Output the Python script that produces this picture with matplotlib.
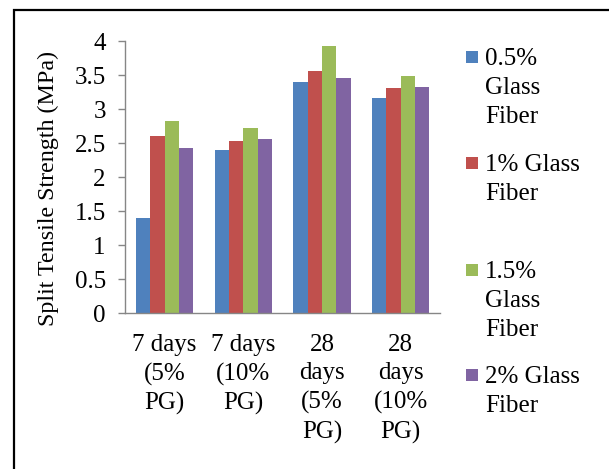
import matplotlib
matplotlib.use("Agg")
import matplotlib.pyplot as plt
import numpy as np
from matplotlib.patches import Rectangle

# data
categories = ["7 days\n(5%\nPG)", "7 days\n(10%\nPG)", "28\ndays\n(5%\nPG)", "28\ndays\n(10%\nPG)"]
series_names = ["0.5%\nGlass\nFiber", "1% Glass\nFiber", "1.5%\nGlass\nFiber", "2% Glass\nFiber"]
gf_05 = [1.40, 2.39, 3.39, 3.16]
gf_10 = [2.61, 2.53, 3.56, 3.31]
gf_15 = [2.83, 2.72, 3.92, 3.48]
gf_20 = [2.42, 2.56, 3.45, 3.32]
yticks = [0, 0.5, 1, 1.5, 2, 2.5, 3, 3.5, 4]
ytick_labels = ["0", "0.5", "1", "1.5", "2", "2.5", "3", "3.5", "4"]

colors = ["#4F81BD", "#C0504D", "#9BBB59", "#8064A2"]
axis_gray = "#868686"

plt.rcParams['font.family'] = ['Liberation Serif', 'DejaVu Serif']
fs = 18

W, H = 609, 469
fig = plt.figure(figsize=(W / 100, H / 100), dpi=100)
ax = fig.add_axes([125.3 / W, 1 - 313 / H, (440 - 125.3) / W, (313 - 41) / H])

x = np.arange(len(categories))
width = 0.182
values = [gf_05, gf_10, gf_15, gf_20]
bars = []
for i, vals in enumerate(values):
    b = ax.bar(x + (i - 1.5) * width, vals, width, color=colors[i], linewidth=0)
    bars.append(b)

ax.set_xlim(-0.5, len(categories) - 0.5)
ax.set_ylim(0, 4)
ax.set_yticks(yticks)
ax.set_yticklabels(ytick_labels, fontsize=fs)
ax.set_xticks(x)
ax.set_xticklabels(categories, fontsize=fs, linespacing=1.38)

for s in ["top", "right"]:
    ax.spines[s].set_visible(False)
for s in ["left", "bottom"]:
    ax.spines[s].set_color(axis_gray)
    ax.spines[s].set_linewidth(1.0)
ax.tick_params(axis="y", direction="out", length=5, width=1, color=axis_gray, pad=9)
ax.tick_params(axis="x", length=0, pad=15)

fig.text(48 / W, 1 - 188 / H, "Split Tensile Strength (MPa)", rotation=90,
         ha="center", va="center", fontsize=17.3)

# legend drawn as Excel lays it out: square beside the first line
first_line_y = [57, 163, 270, 375]
for i, name in enumerate(series_names):
    yc = first_line_y[i]
    fig.patches.append(Rectangle((466 / W, 1 - (yc + 6) / H), 12 / W, 12 / H,
                                 transform=fig.transFigure, color=bars[i].patches[0].get_facecolor(),
                                 linewidth=0))
    fig.text(485 / W, 1 - (yc - 9) / H, name, ha="left", va="top",
             fontsize=fs, linespacing=1.4)

# outer frame
fig.patches.append(Rectangle((13.5 / W, -0.05), 1.1, 1 - 10.5 / H + 0.05,
                             transform=fig.transFigure, fill=False,
                             edgecolor="black", linewidth=1.6))

fig.savefig("out.png", dpi=100)
